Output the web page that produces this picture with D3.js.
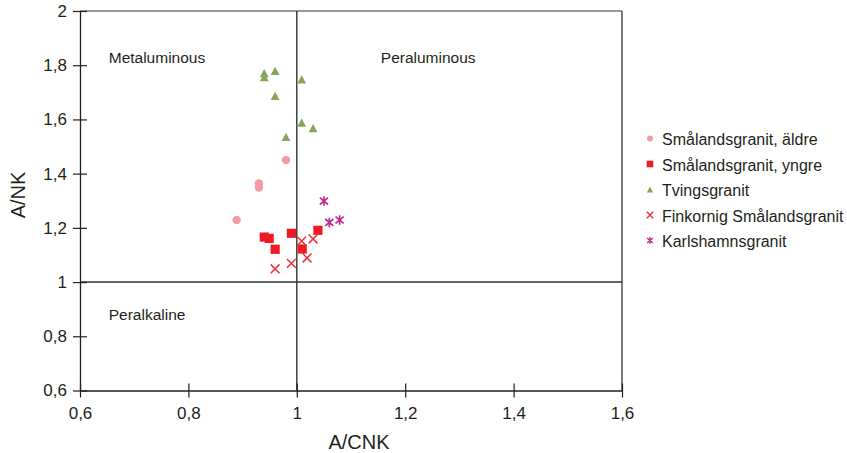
<!DOCTYPE html>
<html>
<head>
<meta charset="utf-8">
<script src="https://cdn.jsdelivr.net/npm/d3@7"></script>
<style>
  html, body { margin: 0; padding: 0; background: #fff; }
  svg { display: block; font-family: "Liberation Sans", Arial, Helvetica, sans-serif; }
</style>
</head>
<body>
<svg id="chart" width="847" height="453"></svg>
<script>
// A/CNK vs A/NK discrimination diagram for granite groups

const xTicks = [0.6, 0.8, 1.0, 1.2, 1.4, 1.6];
const xTickLabels = ["0,6", "0,8", "1", "1,2", "1,4", "1,6"];
const yTicks = [0.6, 0.8, 1.0, 1.2, 1.4, 1.6, 1.8, 2.0];
const yTickLabels = ["0,6", "0,8", "1", "1,2", "1,4", "1,6", "1,8", "2"];

const seriesNames = [
  "Smålandsgranit, äldre",
  "Smålandsgranit, yngre",
  "Tvingsgranit",
  "Finkornig Smålandsgranit",
  "Karlshamnsgranit"
];

// A/CNK, A/NK pairs per granite group
const aldreCNK = [0.98, 0.93, 0.93, 0.889];
const aldreNK  = [1.45, 1.364, 1.349, 1.229];

const yngreCNK = [0.940, 0.949, 0.960, 0.990, 1.010, 1.039];
const yngreNK  = [1.166, 1.161, 1.121, 1.180, 1.122, 1.191];

const tvingsCNK = [0.940, 0.940, 0.960, 1.009, 0.960, 1.009, 1.030, 0.980];
const tvingsNK  = [1.771, 1.756, 1.779, 1.748, 1.687, 1.588, 1.568, 1.536];

const finkornigCNK = [0.960, 0.990, 1.009, 1.030, 1.019];
const finkornigNK  = [1.049, 1.069, 1.151, 1.159, 1.089];

const karlshamnCNK = [1.050, 1.060, 1.079];
const karlshamnNK  = [1.299, 1.220, 1.229];

const regionLabels = ["Metaluminous", "Peraluminous", "Peralkaline"];

const svg = d3.select("#chart");
const ink = "#231f20";

const plot = { left: 80, right: 622, top: 11, bottom: 390.5 };
const x = d3.scaleLinear().domain([0.6, 1.6]).range([plot.left, plot.right]);
const y = d3.scaleLinear().domain([0.6, 2.0]).range([plot.bottom, plot.top]);

// Frame: top and right borders
svg.append("line")
  .attr("x1", x(0.6)).attr("x2", x(1.6)).attr("y1", y(2)).attr("y2", y(2))
  .attr("stroke", "#777").attr("stroke-width", 1.3);
svg.append("line")
  .attr("x1", x(1.6)).attr("x2", x(1.6)).attr("y1", y(2)).attr("y2", y(0.6))
  .attr("stroke", "#333").attr("stroke-width", 1.3);

// Field dividers at A/CNK = 1 and A/NK = 1
svg.append("line")
  .attr("x1", x(1)).attr("x2", x(1)).attr("y1", y(2)).attr("y2", y(0.6))
  .attr("stroke", "#333").attr("stroke-width", 1.4);
svg.append("line")
  .attr("x1", x(0.6)).attr("x2", x(1.6)).attr("y1", y(1)).attr("y2", y(1))
  .attr("stroke", "#333").attr("stroke-width", 1.4);

// Axes
const xAxis = d3.axisBottom(x)
  .tickValues(xTicks)
  .tickFormat((d, i) => xTickLabels[i])
  .tickSizeInner(7).tickSizeOuter(0).tickPadding(9);
const gx = svg.append("g")
  .attr("transform", `translate(0,${plot.bottom})`)
  .call(xAxis);
gx.select(".domain").attr("stroke", ink).attr("stroke-width", 1.3);
gx.selectAll(".tick line").attr("y1", -7).attr("y2", 7).attr("stroke", ink).attr("stroke-width", 1.2);
gx.selectAll(".tick text")
  .attr("fill", ink).attr("font-size", 17)
  .attr("font-family", "Liberation Sans, Arial, sans-serif");

const yAxis = d3.axisLeft(y)
  .tickValues(yTicks)
  .tickFormat((d, i) => yTickLabels[i])
  .tickSizeInner(7).tickSizeOuter(0).tickPadding(6);
const gy = svg.append("g")
  .attr("transform", `translate(${plot.left},0)`)
  .call(yAxis);
gy.select(".domain").attr("stroke", ink).attr("stroke-width", 1.3);
gy.selectAll(".tick line").attr("x1", 7).attr("x2", -7).attr("stroke", ink).attr("stroke-width", 1.2);
gy.selectAll(".tick text")
  .attr("fill", ink).attr("font-size", 17)
  .attr("font-family", "Liberation Sans, Arial, sans-serif");

// Axis titles
svg.append("text")
  .attr("x", (plot.left + plot.right) / 2 + 8).attr("y", 449)
  .attr("text-anchor", "middle").attr("font-size", 20).attr("fill", ink)
  .text("A/CNK");
svg.append("text")
  .attr("transform", "translate(25,195) rotate(-90)")
  .attr("text-anchor", "middle").attr("font-size", 20).attr("fill", ink)
  .text("A/NK");

// Field names
const regionPos = [[0.653, 1.808], [1.155, 1.808], [0.653, 0.86]];
regionLabels.forEach((t, i) => {
  svg.append("text")
    .attr("x", x(regionPos[i][0])).attr("y", y(regionPos[i][1]))
    .attr("font-size", 15.5).attr("fill", ink)
    .text(t);
});

// Marker shapes (paths centred on 0,0)
const colors = ["#f49ca4", "#ed1c24", "#89a55a", "#ee3134", "#c42a8e"];

function circlePath(r) { return d3.symbol(d3.symbolCircle, Math.PI * r * r)(); }
function squarePath(s) { return `M${-s/2},${-s/2}H${s/2}V${s/2}H${-s/2}Z`; }
function trianglePath(w, h) { return `M0,${-h/2}L${w/2},${h/2}L${-w/2},${h/2}Z`; }
function crossPath(r) { return `M${-r},${-r}L${r},${r}M${-r},${r}L${r},${-r}`; }
function asteriskPath(r) {
  const a = r * 0.85, b = r * 0.72;
  return `M0,${-r}L0,${r}M${-a},${-b}L${a},${b}M${-a},${b}L${a},${-b}`;
}

const markers = [
  { path: s => circlePath(4.2 * s), fill: true },
  { path: s => squarePath(9.2 * s), fill: true },
  { path: s => trianglePath(8.8 * s, 8.2 * s), fill: true },
  { path: s => crossPath(4.4 * s), fill: false, sw: 1.5 },
  { path: s => asteriskPath(4.8 * s), fill: false, sw: 1.7 }
];

const series = [
  [aldreCNK, aldreNK],
  [yngreCNK, yngreNK],
  [tvingsCNK, tvingsNK],
  [finkornigCNK, finkornigNK],
  [karlshamnCNK, karlshamnNK]
];

function styleMarker(sel, i, sw) {
  if (markers[i].fill) sel.attr("fill", colors[i]).attr("stroke", "none");
  else sel.attr("fill", "none").attr("stroke", colors[i]).attr("stroke-width", sw);
}

series.forEach(([xs, ys], i) => {
  const pts = xs.map((v, j) => [v, ys[j]]);
  const g = svg.append("g");
  g.selectAll("path").data(pts).join("path")
    .attr("transform", d => `translate(${x(d[0])},${y(d[1])})`)
    .attr("d", markers[i].path(1))
    .call(sel => styleMarker(sel, i, markers[i].sw));
});

// Legend
const legend = svg.append("g");
seriesNames.forEach((name, i) => {
  const base = 145 + i * 25.5;
  legend.append("path")
    .attr("transform", `translate(650,${base - 6.5})`)
    .attr("d", markers[i].path(0.72))
    .call(sel => styleMarker(sel, i, 1.4));
  legend.append("text")
    .attr("x", 662).attr("y", base)
    .attr("font-size", 16).attr("fill", ink)
    .text(name);
});
</script>
</body>
</html>
